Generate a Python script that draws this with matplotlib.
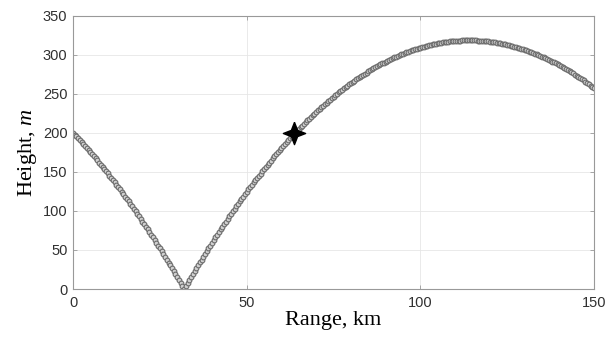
import numpy as np
import matplotlib.pyplot as plt

# 射线高度随距离变化 (每0.5 km一个采样点)
range_step = 0.5
range_km = np.arange(0, 150 + range_step, range_step)

# 入射段: 0 ~ 32 km
height_down = [
    200.0, 197.6, 195.2, 192.8, 190.3, 187.9, 185.4, 182.8, 180.3, 177.7,
    175.1, 172.5, 169.9, 167.2, 164.5, 161.8, 159.1, 156.3, 153.5, 150.7,
    147.9, 145.0, 142.1, 139.2, 136.3, 133.4, 130.4, 127.4, 124.4, 121.3,
    118.3, 115.2, 112.1, 108.9, 105.8, 102.6, 99.4, 96.1, 92.9, 89.6,
    86.3, 83.0, 79.6, 76.2, 72.8, 69.4, 66.0, 62.5, 59.0, 55.5,
    52.0, 48.4, 44.8, 41.2, 37.5, 33.9, 30.2, 26.5, 22.8, 19.0,
    15.2, 11.4, 7.6, 3.8, 0.0,
]

# 反射段: 32.5 ~ 150 km
height_up = [
    3.9, 7.7, 11.5, 15.3, 19.1, 22.9, 26.6, 30.3, 34.0, 37.6,
    41.3, 44.9, 48.4, 52.0, 55.5, 59.1, 62.5, 66.0, 69.5, 72.9,
    76.3, 79.6, 83.0, 86.3, 89.6, 92.9, 96.1, 99.4, 102.6, 105.8,
    108.9, 112.1, 115.2, 118.3, 121.3, 124.4, 127.4, 130.4, 133.3, 136.3,
    139.2, 142.1, 145.0, 147.8, 150.7, 153.5, 156.2, 159.0, 161.7, 164.4,
    167.1, 169.8, 172.4, 175.0, 177.6, 180.2, 182.7, 185.3, 187.8, 190.2,
    192.7, 195.1, 197.5, 199.9, 202.2, 204.6, 206.9, 209.2, 211.4, 213.7,
    215.9, 218.1, 220.2, 222.4, 224.5, 226.6, 228.6, 230.7, 232.7, 234.7,
    236.7, 238.6, 240.6, 242.5, 244.4, 246.2, 248.1, 249.9, 251.7, 253.4,
    255.2, 256.9, 258.6, 260.2, 261.9, 263.5, 265.1, 266.7, 268.2, 269.8,
    271.3, 272.7, 274.2, 275.6, 277.0, 278.4, 279.8, 281.1, 282.4, 283.7,
    285.0, 286.2, 287.4, 288.6, 289.8, 291.0, 292.1, 293.2, 294.3, 295.3,
    296.3, 297.4, 298.3, 299.3, 300.2, 301.1, 302.0, 302.9, 303.7, 304.6,
    305.4, 306.1, 306.9, 307.6, 308.3, 309.0, 309.6, 310.2, 310.9, 311.4,
    312.0, 312.5, 313.0, 313.5, 314.0, 314.4, 314.8, 315.2, 315.6, 315.9,
    316.3, 316.6, 316.8, 317.1, 317.3, 317.5, 317.7, 317.8, 318.0, 318.1,
    318.2, 318.2, 318.3, 318.3, 318.3, 318.2, 318.2, 318.1, 318.0, 317.9,
    317.7, 317.5, 317.3, 317.1, 316.9, 316.6, 316.3, 316.0, 315.6, 315.3,
    314.9, 314.5, 314.0, 313.6, 313.1, 312.6, 312.1, 311.5, 310.9, 310.3,
    309.7, 309.0, 308.4, 307.7, 307.0, 306.2, 305.4, 304.6, 303.8, 303.0,
    302.1, 301.3, 300.3, 299.4, 298.5, 297.5, 296.5, 295.4, 294.4, 293.3,
    292.2, 291.1, 290.0, 288.8, 287.6, 286.4, 285.1, 283.9, 282.6, 281.3,
    279.9, 278.6, 277.2, 275.8, 274.4, 272.9, 271.4, 269.9, 268.4, 266.9,
    265.3, 263.7, 262.1, 260.4, 258.8, 257.1,
]

# 目标点
target_range = [63.7]
target_height = [200]

x_ticks = [0, 50, 100, 150]
y_ticks = [0, 50, 100, 150, 200, 250, 300, 350]

plt.rcParams['mathtext.fontset'] = 'custom'
plt.rcParams['mathtext.rm'] = 'Liberation Serif'
plt.rcParams['mathtext.it'] = 'Liberation Serif:italic'

height = np.array(height_down + height_up)

fig = plt.figure(figsize=(6.09, 3.43), dpi=100)
ax = fig.add_axes([0.1199, 0.1574, 0.8555, 0.7974])

ax.plot(range_km, height, linestyle='none', marker='o', markersize=3.4,
        markerfacecolor='0.82', markeredgecolor='0.42', markeredgewidth=0.8)

# 四角星标记
star = [(0, 1), (0.28, 0.28), (1, 0), (0.28, -0.28), (0, -1),
        (-0.28, -0.28), (-1, 0), (-0.28, 0.28), (0, 1)]
ax.plot(target_range, target_height, linestyle='none', marker=star,
        markersize=16, color='black')

ax.set_xlim(0, 150)
ax.set_ylim(0, 350)
ax.set_xticks(x_ticks)
ax.set_yticks(y_ticks)
ax.grid(True, color='0.9', linewidth=0.6)
ax.set_axisbelow(True)

for s in ax.spines.values():
    s.set_color('0.6')
    s.set_linewidth(0.8)
ax.tick_params(direction='in', length=3, width=0.6, color='0.6',
               top=True, right=True, labelsize=10.5, labelcolor='#303030')
ax.tick_params(axis='x', pad=5)
ax.tick_params(axis='y', pad=4)
for lab in ax.get_xticklabels() + ax.get_yticklabels():
    lab.set_family('Liberation Sans')

ax.set_xlabel('Range, km', family='Liberation Serif', fontsize=16, labelpad=1)
ax.set_ylabel('Height, $\\mathit{m}$', family='Liberation Serif', fontsize=16,
              labelpad=3)

fig.savefig('out.png', dpi=100)
